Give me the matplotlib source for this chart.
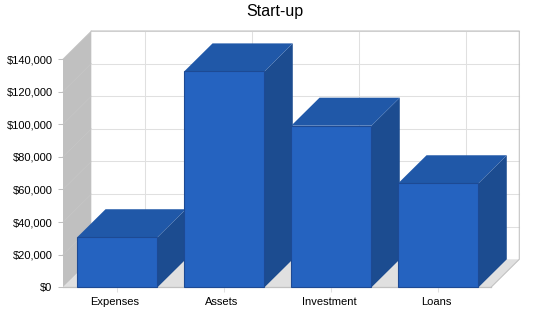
import matplotlib

matplotlib.use("Agg")

import matplotlib.pyplot as plt
from matplotlib.patches import Polygon
from matplotlib.transforms import ScaledTranslation

categories = ["Expenses", "Assets", "Investment", "Loans"]
values = [30700, 132400, 99100, 63800]
y_ticks = [0, 20000, 40000, 60000, 80000, 100000, 120000, 140000]
y_labels = ["$0", "$20,000", "$40,000", "$60,000", "$80,000", "$100,000", "$120,000", "$140,000"]

W, H = 550, 318
LEFT, RIGHT, TOP, BOTTOM = 63, 491, 59, 287.3
# 3d offset in data units
DX = 28.3 / (RIGHT - LEFT) * 4
DY = 28.0 / (BOTTOM - TOP) * 140000
BAR_W = 0.75
BAR_SHIFT = 0.008
GRID = "#e0e0e0"
WALL = "#c0c0c0"
FRONT, TOPC, SIDE, EDGE = "#2563c0", "#2058a8", "#1c4c90", "#1d4a94"

plt.rcParams["font.family"] = ["Liberation Sans", "DejaVu Sans"]

fig = plt.figure(figsize=(W / 100, H / 100), dpi=100)
ax = fig.add_axes([LEFT / W, 1 - BOTTOM / H, (RIGHT - LEFT) / W, (BOTTOM - TOP) / H])
ax.set_xlim(0, 4)
ax.set_ylim(0, 140000)
for s in ax.spines.values():
    s.set_visible(False)


def poly(pts, fc, ec="none", lw=0.0, z=1):
    ax.add_patch(Polygon(pts, closed=True, fc=fc, ec=ec, lw=lw, zorder=z, clip_on=False))


ymax = y_ticks[-1]
# left wall and floor
poly([(0, 0), (DX, DY), (DX, ymax + DY), (0, ymax)], WALL)
poly([(0, 0), (4, 0), (4 + DX, DY), (DX, DY)], "#e0e0e0")

# back wall grid
for t in y_ticks[1:]:
    ax.plot([DX, 4 + DX], [t + DY, t + DY], color=GRID, lw=0.75, clip_on=False, zorder=1.1)
    ax.plot([0, DX], [t, t + DY], color="#c6c6c6", lw=0.5, clip_on=False, zorder=1.1)
for i in range(len(categories)):
    ax.plot([i + 0.5 + DX] * 2, [DY, ymax + DY], color=GRID, lw=0.75, clip_on=False, zorder=1.1)

# back wall border
ax.plot([DX, 4 + DX, 4 + DX, 4], [ymax + DY, ymax + DY, DY, 0], color=WALL, lw=0.75, clip_on=False, zorder=1.2)
ax.plot([0, 4], [0, 0], color=WALL, lw=0.9, clip_on=False, zorder=1.2)

# bars
for i, v in enumerate(values):
    x0 = i + 0.5 - BAR_W / 2 + BAR_SHIFT
    x1 = x0 + BAR_W
    z = 2 + i
    poly([(x1, 0), (x1 + DX, DY), (x1 + DX, v + DY), (x1, v)], SIDE, z=z)
    poly([(x0, v), (x1, v), (x1 + DX, v + DY), (x0 + DX, v + DY)], TOPC, z=z)
    poly([(x0, 0), (x1, 0), (x1, v), (x0, v)], FRONT, ec=EDGE, lw=0.8, z=z + 0.5)

ax.set_xticks([i + 0.5 for i in range(len(categories))], categories)
ax.set_yticks(y_ticks, y_labels)
ax.tick_params(axis="x", length=3.6, width=0.75, color=GRID, labelsize=8, pad=3.6, labelcolor="black")
ax.tick_params(axis="y", length=3.6, width=0.75, color=WALL, labelsize=8, pad=3.9, labelcolor="black")
# category labels sit a little left of their ticks
for lab in ax.get_xticklabels():
    lab.set_transform(lab.get_transform() + ScaledTranslation(-1.5 / 100, 0, fig.dpi_scale_trans))
fig.text(0.5, 1 - 11.5 / H, "Start-up", fontsize=11.5, ha="center", va="center")

fig.savefig("out.png", dpi=100)
